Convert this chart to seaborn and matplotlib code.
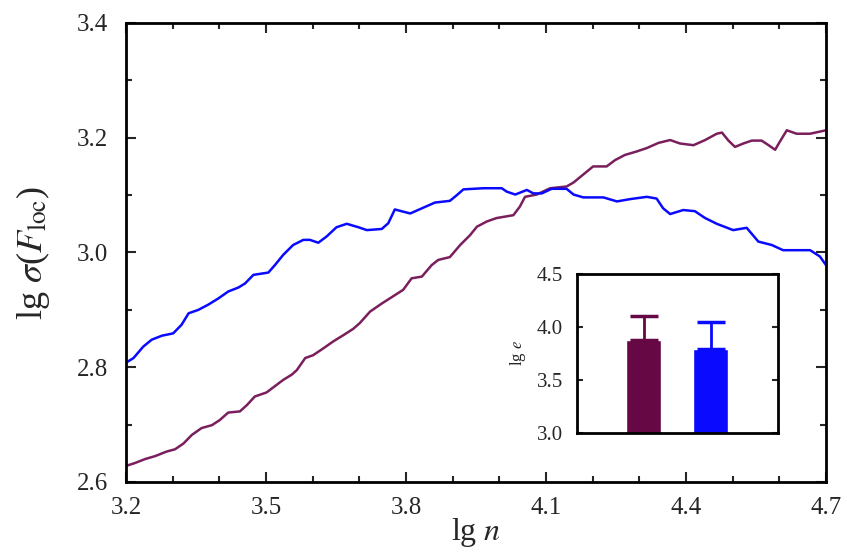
import numpy as np
import pandas as pd
import seaborn as sns
import matplotlib.pyplot as plt
from matplotlib.ticker import MultipleLocator

# blue curve
blue_x = [3.200, 3.216, 3.237, 3.255, 3.277, 3.301, 3.319, 3.334, 3.355, 3.376,
          3.398, 3.419, 3.441, 3.455, 3.473, 3.505, 3.519, 3.537, 3.558, 3.580,
          3.594, 3.612, 3.630, 3.651, 3.673, 3.698, 3.716, 3.748, 3.762, 3.776,
          3.809, 3.834, 3.862, 3.894, 3.909, 3.923, 3.966, 4.005, 4.016, 4.034,
          4.059, 4.073, 4.091, 4.112, 4.144, 4.159, 4.180, 4.223, 4.252, 4.280,
          4.316, 4.337, 4.351, 4.366, 4.394, 4.419, 4.441, 4.466, 4.501, 4.530,
          4.555, 4.584, 4.608, 4.666, 4.687, 4.700]
blue_y = [2.808, 2.816, 2.836, 2.848, 2.855, 2.859, 2.874, 2.894, 2.900, 2.909,
          2.920, 2.932, 2.939, 2.946, 2.961, 2.965, 2.978, 2.996, 3.013, 3.022,
          3.022, 3.017, 3.028, 3.044, 3.050, 3.044, 3.039, 3.041, 3.051, 3.075,
          3.068, 3.077, 3.087, 3.090, 3.100, 3.110, 3.112, 3.112, 3.106, 3.101,
          3.109, 3.103, 3.103, 3.111, 3.111, 3.101, 3.096, 3.096, 3.089, 3.093,
          3.097, 3.094, 3.077, 3.067, 3.074, 3.072, 3.060, 3.050, 3.039, 3.043,
          3.019, 3.013, 3.004, 3.004, 2.993, 2.978]

# maroon curve
maroon_x = [3.200, 3.219, 3.241, 3.262, 3.287, 3.305, 3.323, 3.341, 3.362, 3.384,
            3.401, 3.419, 3.444, 3.459, 3.476, 3.501, 3.519, 3.537, 3.555, 3.566,
            3.584, 3.601, 3.623, 3.644, 3.666, 3.687, 3.701, 3.723, 3.748, 3.773,
            3.794, 3.812, 3.834, 3.855, 3.869, 3.894, 3.916, 3.937, 3.952, 3.973,
            3.994, 4.030, 4.044, 4.055, 4.080, 4.109, 4.144, 4.159, 4.180, 4.201,
            4.230, 4.248, 4.269, 4.294, 4.316, 4.341, 4.366, 4.387, 4.416, 4.441,
            4.466, 4.477, 4.491, 4.505, 4.523, 4.541, 4.562, 4.577, 4.591, 4.601,
            4.616, 4.637, 4.666, 4.700]
maroon_y = [2.628, 2.633, 2.640, 2.645, 2.653, 2.657, 2.667, 2.682, 2.694, 2.699,
            2.708, 2.721, 2.723, 2.734, 2.749, 2.756, 2.767, 2.778, 2.787, 2.795,
            2.816, 2.821, 2.833, 2.845, 2.856, 2.867, 2.877, 2.897, 2.911, 2.924,
            2.935, 2.955, 2.958, 2.978, 2.987, 2.992, 3.013, 3.030, 3.045, 3.054,
            3.060, 3.065, 3.080, 3.097, 3.101, 3.112, 3.115, 3.122, 3.136, 3.150,
            3.150, 3.161, 3.170, 3.176, 3.182, 3.191, 3.196, 3.190, 3.187, 3.196,
            3.207, 3.209, 3.195, 3.184, 3.190, 3.195, 3.195, 3.187, 3.179, 3.193,
            3.213, 3.207, 3.207, 3.213]

# inset bars
bar_groups = ['maroon', 'blue']
bar_values = [3.88, 3.79]
bar_errors = [0.22, 0.26]

maroon_line = '#7a1f5c'
maroon_bar = '#660844'
blue_col = '#0a0aff'

sns.set_style('ticks')
plt.rcParams['font.family'] = ['Liberation Serif', 'DejaVu Serif']
plt.rcParams['mathtext.fontset'] = 'stix'

fig = plt.figure(figsize=(8.47, 5.54), dpi=100)
ax = fig.add_axes([0.1488, 0.1300, 0.8264, 0.8285])

df_b = pd.DataFrame({'x': blue_x, 'y': blue_y})
df_m = pd.DataFrame({'x': maroon_x, 'y': maroon_y})
sns.lineplot(data=df_m, x='x', y='y', ax=ax, color=maroon_line, linewidth=1.8,
             estimator=None, sort=False)
sns.lineplot(data=df_b, x='x', y='y', ax=ax, color=blue_col, linewidth=1.8,
             estimator=None, sort=False)

ax.set_xlim(3.2, 4.7)
ax.set_ylim(2.6, 3.4)
ax.set_xticks([3.2, 3.5, 3.8, 4.1, 4.4, 4.7])
ax.set_xticklabels(['3.2', '3.5', '3.8', '4.1', '4.4', '4.7'])
ax.set_yticks([2.6, 2.8, 3.0, 3.2, 3.4])
ax.set_yticklabels(['2.6', '2.8', '3.0', '3.2', '3.4'])
ax.xaxis.set_minor_locator(MultipleLocator(0.1))
ax.yaxis.set_minor_locator(MultipleLocator(0.1))
ax.tick_params(which='both', direction='in', top=True, right=True, width=1.5)
ax.tick_params(which='major', length=7, labelsize=18)
ax.tick_params(axis='y', pad=13)
ax.tick_params(axis='x', pad=11)
ax.tick_params(which='minor', length=4)
for s in ax.spines.values():
    s.set_linewidth(2)
    s.set_color('black')
ax.set_xlabel(r'lg $\it{n}$', fontsize=23, labelpad=-2)
ax.set_ylabel(r'lg $\sigma$($\it{F}_{\rm{loc}}$)', fontsize=26, labelpad=18)

# inset
ins = fig.add_axes([0.681, 0.2184, 0.2374, 0.2870])
df_bar = pd.DataFrame({'g': bar_groups, 'v': bar_values})
sns.barplot(data=df_bar, x='g', y='v', hue='g', ax=ins,
            palette=[maroon_bar, blue_col], width=0.52, legend=False,
            saturation=1, errorbar=None)
for i, (v, e, c) in enumerate(zip(bar_values, bar_errors, [maroon_bar, blue_col])):
    ins.errorbar(i, v, yerr=[[0], [e]], color=c, capsize=10, elinewidth=2,
                 capthick=2.5, fmt='none')
ins.set_xlim(-1, 2)
ins.set_ylim(3.0, 4.5)
ins.set_yticks([3.0, 3.5, 4.0, 4.5])
ins.set_yticklabels(['3.0', '3.5', '4.0', '4.5'])
ins.set_xticks([])
ins.set_xlabel('')
ins.set_ylabel(r'lg $\it{e}$', fontsize=12, labelpad=6)
ins.tick_params(axis='y', direction='in', right=True, length=4, width=1.5,
                labelsize=15, pad=10)
for s in ins.spines.values():
    s.set_linewidth(2)
    s.set_color('black')

fig.savefig('out.png', dpi=100)
